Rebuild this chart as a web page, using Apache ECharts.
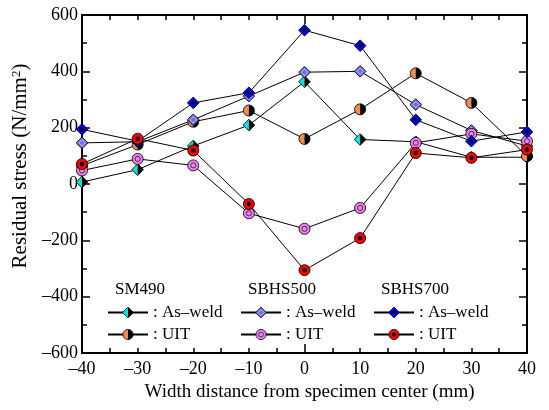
<!DOCTYPE html>
<html>
<head>
<meta charset="utf-8">
<script src="https://cdn.jsdelivr.net/npm/echarts@6/dist/echarts.min.js"></script>
<style>
	html, body { margin:0; padding:0; background:#fff; }
	#chart { width:549px; height:410px; }
</style>
</head>
<body>
<div id="chart"></div>
<script>
	const xs = [-40, -30, -20, -10, 0, 10, 20, 30, 40];
	const sm490AsWeld = [7, 51, 135, 209, 363, 158, 150, 95, 95];
	const sm490Uit = [65, 140, 221, 261, 160, 265, 393, 288, 99];
	const sbhs500AsWeld = [146, 150, 228, 312, 397, 400, 282, 190, 135];
	const sbhs500Uit = [48, 89, 66, -104, -159, -85, 146, 178, 152];
	const sbhs700AsWeld = [194, 152, 288, 324, 546, 491, 228, 152, 185];
	const sbhs700Uit = [71, 161, 119, -71, -306, -192, 110, 93, 122];
	const groupTitles = ['SM490', 'SBHS500', 'SBHS700'];

	const FONT = 'Liberation Serif';

	// svg markers, some of them are two-tone so a plain symbol won't do
	const svgUri = body => 'image://data:image/svg+xml;charset=utf-8,' + encodeURIComponent(
		'<svg xmlns="http://www.w3.org/2000/svg" width="40" height="40" viewBox="0 0 20 20">' + body + '</svg>');
	const DIAMOND = 'M10 1L19 10L10 19L1 10Z';
	const marks = {
		sm490As: svgUri(`<path d="M10 1L1 10L10 19Z" fill="#00e6e6"/><path d="M10 1L19 10L10 19Z" fill="#000"/><path d="${DIAMOND}" fill="none" stroke="#000" stroke-width="1.3"/>`),
		sm490Uit: svgUri(`<path d="M10 1.5A8.5 8.5 0 0 0 10 18.5Z" fill="#f58a4f"/><path d="M10 1.5A8.5 8.5 0 0 1 10 18.5Z" fill="#000"/><circle cx="10" cy="10" r="8.5" fill="none" stroke="#000" stroke-width="1.3"/>`),
		sbhs500As: svgUri(`<path d="${DIAMOND}" fill="#6e6ee0" stroke="#000" stroke-width="1.3"/><path d="M10 5L15 10L10 15L5 10Z" fill="#6e6ee0" stroke="#e8e8ff" stroke-width="1"/>`),
		sbhs500Uit: svgUri(`<circle cx="10" cy="10" r="8.5" fill="#ee82ee" stroke="#000" stroke-width="1.3"/><circle cx="10" cy="10" r="4" fill="#ee82ee" stroke="#000" stroke-width="1"/>`),
		sbhs700As: svgUri(`<path d="${DIAMOND}" fill="#0000ff" stroke="#000" stroke-width="1.3"/><path d="M10 6L14 10L10 14L6 10Z" fill="#000"/>`),
		sbhs700Uit: svgUri(`<circle cx="10" cy="10" r="8.5" fill="#ff0000" stroke="#000" stroke-width="1.3"/><circle cx="10" cy="10" r="3.5" fill="#000"/>`)
	};

	let makeSeries = (name, values, symbol) => ({
		name: name,
		type: 'line',
		data: xs.map((x, i) => [x, values[i]]),
		symbol: symbol,
		symbolSize: 13,
		showAllSymbol: true,
		lineStyle: { color:'#000', width:1 },
		itemStyle: { color:'#000' },
		emphasis: { disabled:true }
	});

	let dash = v => String(v).replace('-', '\u2013');

	let tickStyle = { color:'#000', width:1.5 };
	let frame = (extra) => Object.assign({
		min: -40, max: 40, interval: 10,
		axisLine: { show:true, onZero:false, lineStyle:{ color:'#000', width:2 } },
		axisTick: { show:true, inside:true, length:5, lineStyle:tickStyle },
		minorTick: { show:true, splitNumber:2, length:5, lineStyle:tickStyle },
		splitLine: { show:false },
		minorSplitLine: { show:false },
		axisLabel: { show:false }
	}, extra);
	// longer tick at the centre line, top and bottom
	let centerMark = (pos) => ({
		type: 'value', position: pos, min: -40, max: 40, interval: 40,
		axisLine: { show:false, onZero:false },
		axisTick: { show:true, inside:true, length:9, lineStyle:tickStyle },
		axisLabel: { show:false }, splitLine: { show:false }
	});
	let yFrame = (pos, withLabels) => ({
		type: 'value', position: pos,
		min: -600, max: 600, interval: 200,
		axisLine: { show:true, onZero:false, lineStyle:{ color:'#000', width:2 } },
		axisTick: { show:true, inside:true, length:8, lineStyle:tickStyle },
		minorTick: { show:true, splitNumber:2, length:5, lineStyle:tickStyle },
		splitLine: { show:false },
		axisLabel: withLabels ? {
			show:true, margin:4, color:'#000', fontFamily:FONT, fontSize:18,
			showMinLabel:true, showMaxLabel:true, formatter: dash
		} : { show:false }
	});

	let legendBox = (left, names) => ({
		left: left, top: 304, orient: 'vertical', padding: 0,
		itemWidth: 40, itemHeight: 15, itemGap: 5,
		selectedMode: false,
		data: names,
		formatter: n => n.indexOf('UIT') >= 0 ? ': UIT' : ': As\u2013weld',
		textStyle: { fontFamily:FONT, fontSize:17, color:'#000' }
	});

	let myChart = echarts.init(document.getElementById('chart'));
	let option = {
		animation: false,
		backgroundColor: '#fff',
		textStyle: { fontFamily: FONT },
		grid: { left:82, right:22, top:15, bottom:57, outerBoundsMode:'none' },
		xAxis: [
			frame({
				type: 'value', position: 'bottom',
				axisLabel: { show:true, margin:7, color:'#000', fontFamily:FONT, fontSize:18,
					showMinLabel:true, showMaxLabel:true, formatter: dash },
				name: 'Width distance from specimen center (mm)',
				nameLocation: 'middle', nameGap: 29,
				nameTextStyle: { fontFamily:FONT, fontSize:19, color:'#000', padding:[0, 0, 0, 10] }
			}),
			frame({ type: 'value', position: 'top' }),
			centerMark('bottom'),
			centerMark('top')
		],
		yAxis: [
			Object.assign(yFrame('left', true), {
				name: '{a|Residual stress (N/mm}{s|2}{a|)}',
				nameLocation: 'middle', nameGap: 34,
				nameTextStyle: {
					color:'#000', fontFamily:FONT, padding:[0, 0, 0, 36],
					rich: {
						a: { fontFamily:FONT, fontSize:21, color:'#000' },
						s: { fontFamily:FONT, fontSize:13, color:'#000', verticalAlign:'top', padding:[0, 0, 9, 0] }
					}
				}
			}),
			yFrame('right', false)
		],
		legend: [
			legendBox(107, ['SM490 As-weld', 'SM490 UIT']),
			legendBox(240, ['SBHS500 As-weld', 'SBHS500 UIT']),
			legendBox(373, ['SBHS700 As-weld', 'SBHS700 UIT'])
		],
		graphic: groupTitles.map((t, i) => ({
			type: 'text', left: [115, 248, 381][i], top: 281,
			style: { text: t, fontFamily: FONT, fontSize: 17, fill: '#000' }
		})),
		series: [
			makeSeries('SM490 As-weld', sm490AsWeld, marks.sm490As),
			makeSeries('SM490 UIT', sm490Uit, marks.sm490Uit),
			makeSeries('SBHS500 As-weld', sbhs500AsWeld, marks.sbhs500As),
			makeSeries('SBHS500 UIT', sbhs500Uit, marks.sbhs500Uit),
			makeSeries('SBHS700 As-weld', sbhs700AsWeld, marks.sbhs700As),
			makeSeries('SBHS700 UIT', sbhs700Uit, marks.sbhs700Uit)
		]
	};
	myChart.setOption(option);
</script>
</body>
</html>
